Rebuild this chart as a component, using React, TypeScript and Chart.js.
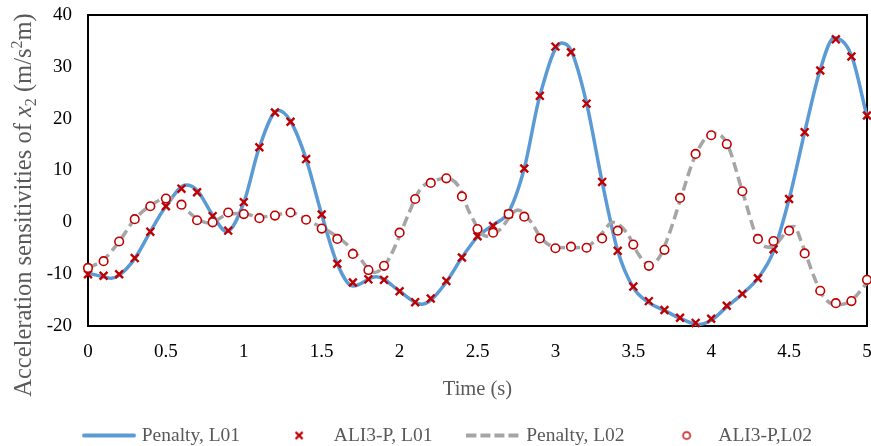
import React, { useEffect, useRef } from "react";
import { Chart, registerables } from "chart.js";

Chart.register(...registerables);

const FONT = '"Liberation Serif", "Times New Roman", serif';
const BLUE = "#5B9BD5";
const GRAY = "#A5A5A5";
const RED = "#C00000";
const TEXT_GRAY = "#595959";

// Sample times of the ALI3-P markers (s)
const TIME = [
  0, 0.1, 0.2, 0.3, 0.4, 0.5, 0.6, 0.7, 0.8, 0.9,
  1.0, 1.1, 1.2, 1.3, 1.4, 1.5, 1.6, 1.7, 1.8, 1.9,
  2.0, 2.1, 2.2, 2.3, 2.4, 2.5, 2.6, 2.7, 2.8, 2.9,
  3.0, 3.1, 3.2, 3.3, 3.4, 3.5, 3.6, 3.7, 3.8, 3.9,
  4.0, 4.1, 4.2, 4.3, 4.4, 4.5, 4.6, 4.7, 4.8, 4.9, 5.0,
];

// ALI3-P, L01 (x markers)
const ALI3P_L01 = [
  -10.0, -10.3, -10.0, -6.9, -1.8, 3.1, 6.5, 5.8, 1.2, -1.6,
  3.9, 14.5, 21.2, 19.4, 12.2, 1.5, -8.0, -11.6, -11.0, -11.1,
  -13.3, -15.4, -14.7, -11.3, -6.8, -2.7, -0.7, 1.6, 10.4, 24.4,
  33.9, 32.8, 22.9, 7.8, -5.5, -12.4, -15.2, -16.9, -18.4, -19.4,
  -18.6, -16.1, -13.8, -10.8, -5.2, 4.5, 17.4, 29.3, 35.3, 32.0, 20.6,
];

// ALI3-P, L02 (circle markers)
const ALI3P_L02 = [
  -8.8, -7.5, -3.7, 0.6, 3.1, 4.6, 3.4, 0.4, 0.0, 1.9,
  1.6, 0.8, 1.3, 1.9, 0.5, -1.2, -3.2, -6.1, -9.2, -8.4,
  -2.0, 4.5, 7.6, 8.5, 5.0, -1.3, -2.0, 1.6, 1.1, -3.1,
  -5.0, -4.7, -4.9, -3.1, -1.6, -4.3, -8.4, -5.3, 4.7, 13.2,
  16.8, 15.1, 6.0, -3.2, -3.6, -1.6, -6.0, -13.2, -15.6, -15.2, -11.1,
];

// Penalty, L01 (solid blue curve)
const PEN_L01_T = [
  0, 0.1, 0.15, 0.2, 0.3, 0.4, 0.5, 0.63, 0.7, 0.8, 0.89, 1.0,
  1.1, 1.22, 1.3, 1.4, 1.5, 1.6, 1.7, 1.85, 1.9, 2.0, 2.14, 2.2,
  2.3, 2.4, 2.5, 2.6, 2.7, 2.8, 2.9, 3.04, 3.1, 3.2, 3.3, 3.4,
  3.5, 3.6, 3.7, 3.8, 3.92, 4.0, 4.1, 4.2, 4.3, 4.4, 4.5, 4.6,
  4.7, 4.79, 4.9, 5.0,
];
const PEN_L01 = [
  -9.8, -10.5, -10.8, -10.2, -7.0, -1.8, 3.1, 7.2, 6.2, 1.4, -1.8, 3.8,
  14.5, 21.6, 19.5, 12.2, 1.5, -8.0, -12.3, -10.5, -11.0, -13.3, -15.8, -15.0,
  -11.5, -6.8, -2.8, -0.5, 2.0, 10.4, 24.4, 34.6, 33.2, 23.0, 7.8, -5.5,
  -12.6, -15.5, -17.0, -18.5, -19.7, -18.9, -16.3, -13.8, -10.8, -5.6, 4.5, 17.4,
  29.5, 35.6, 32.2, 20.4,
];

// Penalty, L02 (dashed grey curve)
const PEN_L02_T = [
  0, 0.1, 0.2, 0.3, 0.4, 0.52, 0.63, 0.7, 0.78, 0.9, 1.0, 1.1,
  1.2, 1.3, 1.42, 1.55, 1.64, 1.72, 1.84, 1.92, 1.98, 2.06, 2.13, 2.24,
  2.3, 2.38, 2.45, 2.56, 2.64, 2.76, 2.84, 2.91, 3.0, 3.1, 3.2, 3.29,
  3.37, 3.46, 3.53, 3.6, 3.67, 3.74, 3.8, 3.9, 4.01, 4.1, 4.2, 4.3,
  4.38, 4.53, 4.59, 4.66, 4.72, 4.8, 4.89, 5.0,
];
const PEN_L02 = [
  -8.8, -7.2, -3.7, 0.6, 3.2, 4.8, 2.4, 0.7, -0.2, 1.6, 1.7, 1.0,
  1.4, 1.9, 0.2, -1.8, -3.7, -6.0, -9.7, -7.6, -4.0, 1.8, 6.3, 8.2,
  8.5, 6.9, 1.8, -2.7, -1.5, 2.4, 0.2, -3.1, -4.8, -4.9, -4.7, -2.4,
  0.0, -2.1, -6.0, -8.2, -6.6, -1.4, 4.2, 13.0, 17.2, 15.3, 6.0, -3.3,
  -4.8, -0.8, -4.7, -10.5, -14.3, -15.9, -15.3, -11.7,
];

const X_TICKS = [0, 0.5, 1, 1.5, 2, 2.5, 3, 3.5, 4, 4.5, 5];
const Y_TICKS = [-20, -10, 0, 10, 20, 30, 40];

const SERIES_NAMES = ["Penalty, L01", "ALI3-P, L01", "Penalty, L02", "ALI3-P,L02"];
const X_TITLE = "Time (s)";

const pts = (xs: number[], ys: number[]) => xs.map((x, i) => ({ x, y: ys[i] }));

function makeIcon(draw: (g: CanvasRenderingContext2D) => void) {
  const c = document.createElement("canvas");
  c.width = 54;
  c.height = 14;
  const g = c.getContext("2d")!;
  draw(g);
  return c;
}

function makeIcons() {
  return [
    makeIcon((g) => {
      g.strokeStyle = BLUE;
      g.lineWidth = 4;
      g.lineCap = "round";
      g.beginPath();
      g.moveTo(2, 7);
      g.lineTo(52, 7);
      g.stroke();
    }),
    makeIcon((g) => {
      g.strokeStyle = RED;
      g.lineWidth = 2.4;
      g.beginPath();
      g.moveTo(21.5, 3.5);
      g.lineTo(28.5, 10.5);
      g.moveTo(21.5, 10.5);
      g.lineTo(28.5, 3.5);
      g.stroke();
    }),
    makeIcon((g) => {
      g.strokeStyle = GRAY;
      g.lineWidth = 4;
      g.setLineDash([10, 4]);
      g.beginPath();
      g.moveTo(0, 7);
      g.lineTo(54, 7);
      g.stroke();
    }),
    makeIcon((g) => {
      g.strokeStyle = RED;
      g.fillStyle = "#fff";
      g.lineWidth = 1.5;
      g.beginPath();
      g.arc(28, 7, 3.6, 0, Math.PI * 2);
      g.fill();
      g.stroke();
    }),
  ];
}

const framePlugin = {
  id: "frame",
  beforeDatasetsDraw(chart: any) {
    const { ctx, chartArea } = chart;
    ctx.save();
    ctx.strokeStyle = "#000";
    ctx.lineWidth = 2;
    ctx.strokeRect(chartArea.left, chartArea.top, chartArea.right - chartArea.left, chartArea.bottom - chartArea.top);
    ctx.restore();
  },
};

const yTitlePlugin = {
  id: "yTitle",
  afterDraw(chart: any) {
    const { ctx } = chart;
    const size = 24.5;
    const small = 16;
    const parts = [
      { t: "Acceleration sensitivities of ", f: `${size}px ${FONT}`, dy: 0 },
      { t: "x", f: `italic ${size}px ${FONT}`, dy: 0 },
      { t: "2", f: `${small}px ${FONT}`, dy: 5 },
      { t: " (m/s", f: `${size}px ${FONT}`, dy: 0 },
      { t: "2", f: `${small}px ${FONT}`, dy: -9 },
      { t: "m)", f: `${size}px ${FONT}`, dy: 0 },
    ];
    ctx.save();
    let total = 0;
    const widths = parts.map((p) => {
      ctx.font = p.f;
      const w = ctx.measureText(p.t).width;
      total += w;
      return w;
    });
    ctx.translate(31, 205);
    ctx.rotate(-Math.PI / 2);
    ctx.fillStyle = TEXT_GRAY;
    ctx.textBaseline = "alphabetic";
    ctx.textAlign = "left";
    let x = -total / 2;
    parts.forEach((p, i) => {
      ctx.font = p.f;
      ctx.fillText(p.t, x, p.dy);
      x += widths[i];
    });
    ctx.restore();
  },
};

export default function App() {
  const ref = useRef<HTMLCanvasElement>(null);

  useEffect(() => {
    const canvas = ref.current;
    if (!canvas) return;
    const icons = makeIcons();
    const chart = new Chart(canvas, {
      type: "line",
      data: {
        datasets: [
          {
            label: SERIES_NAMES[0],
            data: pts(PEN_L01_T, PEN_L01),
            borderColor: BLUE,
            backgroundColor: BLUE,
            borderWidth: 3.5,
            pointRadius: 0,
            cubicInterpolationMode: "monotone",
            fill: false,
            order: 4,
            clip: false,
          },
          {
            label: SERIES_NAMES[1],
            data: pts(TIME, ALI3P_L01),
            showLine: false,
            pointStyle: "crossRot",
            pointRadius: 5.5,
            pointBorderWidth: 2.4,
            pointBorderColor: RED,
            pointBackgroundColor: RED,
            borderColor: RED,
            backgroundColor: RED,
            order: 3,
            clip: false,
          },
          {
            label: SERIES_NAMES[2],
            data: pts(PEN_L02_T, PEN_L02),
            borderColor: GRAY,
            backgroundColor: GRAY,
            borderWidth: 3.5,
            borderDash: [10, 5],
            pointRadius: 0,
            cubicInterpolationMode: "monotone",
            fill: false,
            order: 2,
            clip: false,
          },
          {
            label: SERIES_NAMES[3],
            data: pts(TIME, ALI3P_L02),
            showLine: false,
            pointStyle: "circle",
            pointRadius: 4.3,
            pointBorderWidth: 1.6,
            pointBorderColor: RED,
            pointBackgroundColor: "#fff",
            borderColor: RED,
            backgroundColor: "#fff",
            order: 1,
            clip: false,
          },
        ],
      },
      options: {
        responsive: false,
        animation: false,
        devicePixelRatio: 1,
        events: [],
        layout: { autoPadding: false, padding: { left: 31, right: 4, top: 15, bottom: 0 } },
        scales: {
          x: {
            type: "linear",
            min: 0,
            max: 5,
            afterBuildTicks: (s: any) => {
              s.ticks = X_TICKS.map((v) => ({ value: v }));
            },
            afterFit: (s: any) => {
              s.height = 61.75;
              s.paddingLeft = 0;
              s.paddingRight = 0;
            },
            grid: { display: false, drawTicks: true, tickLength: 15 },
            border: { display: false },
            ticks: {
              color: "#000",
              padding: 0,
              maxRotation: 0,
              font: { family: FONT, size: 19 },
              callback: (v: any) => String(v),
            },
            title: {
              display: true,
              text: X_TITLE,
              color: TEXT_GRAY,
              font: { family: FONT, size: 20.5 },
              padding: { top: 0, bottom: -14.5 },
            },
          },
          y: {
            type: "linear",
            min: -20,
            max: 40,
            afterBuildTicks: (s: any) => {
              s.ticks = Y_TICKS.map((v) => ({ value: v }));
            },
            afterFit: (s: any) => {
              s.width = 57;
            },
            grid: { display: false, drawTicks: true, tickLength: 16 },
            border: { display: false },
            ticks: {
              color: "#000",
              padding: 0,
              font: { family: FONT, size: 19 },
              callback: (v: any) => String(v),
            },
          },
        },
        plugins: {
          tooltip: { enabled: false },
          legend: {
            position: "bottom",
            align: "center",
            maxHeight: 58.25,
            labels: {
              usePointStyle: true,
              pointStyleWidth: 46,
              boxHeight: 12,
              padding: 38,
              color: TEXT_GRAY,
              font: { family: FONT, size: 19.5 },
              sort: (a: any, b: any) => a.datasetIndex - b.datasetIndex,
              generateLabels: (c: any) =>
                (Chart.defaults.plugins.legend.labels.generateLabels as any)(c).map((l: any) => ({
                  ...l,
                  pointStyle: icons[l.datasetIndex],
                })),
            },
          },
        },
      } as any,
      plugins: [framePlugin, yTitlePlugin],
    });
    return () => chart.destroy();
  }, []);

  return (
    <div style={{ position: "absolute", left: 0, top: 0, width: 871, height: 446, background: "#fff" }}>
      <canvas ref={ref} width={871} height={446} style={{ display: "block", width: 871, height: 446 }} />
    </div>
  );
}
